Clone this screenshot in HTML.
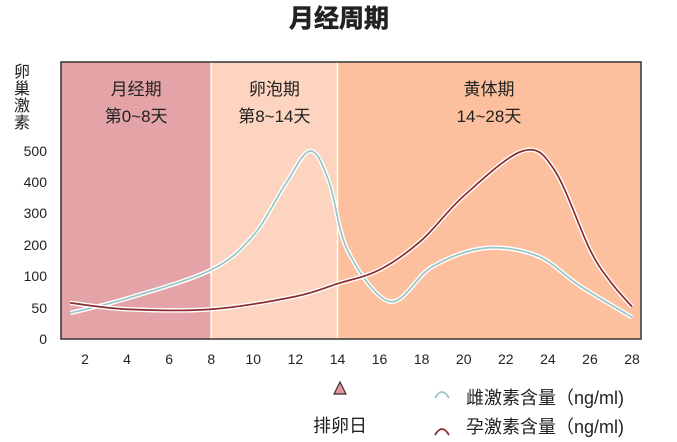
<!DOCTYPE html>
<html><head><meta charset="utf-8"><style>
body{margin:0;background:#fff;}
svg text{font-family:"Liberation Sans","Noto Sans CJK SC",sans-serif;}
</style></head><body>
<svg width="677" height="437" viewBox="0 0 677 437">
<text x="339" y="27" text-anchor="middle" font-size="25" font-weight="bold" fill="#222" stroke="#222" stroke-width="0.6">月经周期</text>
<g id="bg"></g>
<g id="axes"></g>
<g id="lines"></g>
<g font-size="16" fill="#222">
<text x="22" y="77" text-anchor="middle">卵</text><text x="22" y="94" text-anchor="middle">巢</text>
<text x="22" y="111" text-anchor="middle">激</text><text x="22" y="128" text-anchor="middle">素</text>
</g>
<polygon points="340,382 334,394 346,394" fill="#e5959a" stroke="#333" stroke-width="1.2"/>
<text x="340" y="432" text-anchor="middle" font-size="18" fill="#222">排卵日</text>
<g>
<path d="M435,398 Q442,386 449,398" fill="none" stroke="#9cc4c4" stroke-width="1.8"/>
<text x="466" y="404" font-size="18" fill="#222">雌激素含量（ng/ml)</text></g>
<g>
<path d="M435,435 Q442,423 449,435" fill="none" stroke="#8a2c2c" stroke-width="1.8"/>
<text x="466" y="433" font-size="18" fill="#222">孕激素含量（ng/ml)</text></g>
</svg>
<script>
const days=[1.3,4,8,10,11.5,12.7,13.6,14.5,16.5,18.5,21,23.5,25.5,28];
const estrogen=[42,65,120,230,390,500,400,180,60,130,190,165,85,35];
const pDays=[1.3,4,8,12,14,16,18,20,22.8,24.3,26,27,28];
const progesterone=[58,48,48,68,88,120,215,355,500,440,185,90,52];
const yTicks=[0,50,100,200,300,400,500];
const xTicks=[2,4,6,8,10,12,14,16,18,20,22,24,26,28];
const phases=[{name:"月经期",sub:"第0~8天",from:0.86,to:8,color:"#e4a3a6"},{name:"卵泡期",sub:"第8~14天",from:8,to:14,color:"#fcd4c0"},{name:"黄体期",sub:"14~28天",from:14,to:28.4,color:"#fcc09e"}];
const NS="http://www.w3.org/2000/svg";
function X(d){return 85+(d-2)*21.04;}
function Y(v){const py=[339,308,276,245,213,182,151];
 for(let i=0;i<yTicks.length-1;i++){if(v<=yTicks[i+1]){const t=(v-yTicks[i])/(yTicks[i+1]-yTicks[i]);return py[i]+t*(py[i+1]-py[i]);}}
 return 151;}
function el(t,a,p){const e=document.createElementNS(NS,t);for(const k in a)e.setAttribute(k,a[k]);p.appendChild(e);return e;}
const bg=document.getElementById('bg'),ax=document.getElementById('axes'),ln=document.getElementById('lines');
phases.forEach((p,i)=>{const r=el('rect',{x:X(p.from),y:62,width:X(p.to)-X(p.from),height:277,fill:p.color},bg);


const cx=(X(p.from)+X(p.to))/2;
const t1=el('text',{x:cx,y:95,'text-anchor':'middle','font-size':17,fill:'#222'},bg);t1.textContent=p.name;


const t2=el('text',{x:cx,y:122,'text-anchor':'middle','font-size':17,fill:'#222'},bg);t2.textContent=p.sub;

});
[8,14].forEach(d=>{const l=el('line',{x1:X(d),x2:X(d),y1:62,y2:339,stroke:'#fff','stroke-width':1.5},bg);

});
const fr=el('rect',{x:61,y:62,width:580,height:277,fill:'none',stroke:'#333','stroke-width':1.5},ax);


yTicks.forEach(v=>{const t=el('text',{x:47,y:Y(v)+5,'text-anchor':'end','font-size':14,fill:'#222'},ax);t.textContent=v;

});
xTicks.forEach(v=>{const t=el('text',{x:X(v),y:364,'text-anchor':'middle','font-size':14,fill:'#222'},ax);t.textContent=v;

});
function path(xs,ys){const P=xs.map((d,i)=>[X(d),Y(ys[i])]);let s='M'+P[0][0]+','+P[0][1];
for(let i=0;i<P.length-1;i++){const p0=P[i-1]||P[i],p1=P[i],p2=P[i+1],p3=P[i+2]||P[i+1];
s+=' C'+(p1[0]+(p2[0]-p0[0])/6)+','+(p1[1]+(p2[1]-p0[1])/6)+' '+(p2[0]-(p3[0]-p1[0])/6)+','+(p2[1]-(p3[1]-p1[1])/6)+' '+p2[0]+','+p2[1];}
return s;}
[[days,estrogen,'#9cc4c4','estrogen-line'],[pDays,progesterone,'#8a2c2c','progesterone-line']].forEach(s=>{
const d=path(s[0],s[1]);
const h=el('path',{d:d,fill:'none',stroke:'#fff','stroke-width':4.5},ln);


const l=el('path',{d:d,fill:'none',stroke:s[2],'stroke-width':1.7},ln);

});
</script>
</body></html>
